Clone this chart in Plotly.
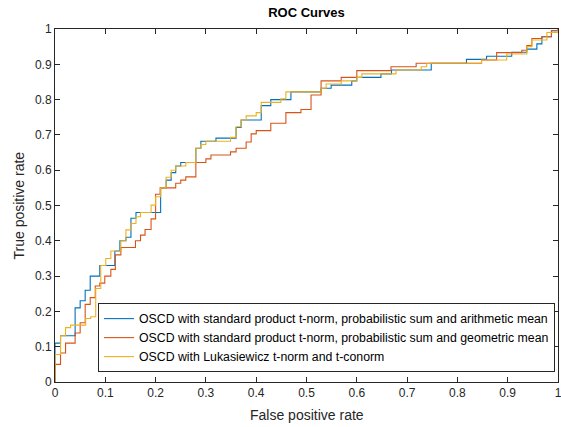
import plotly.graph_objects as go

# ROC step points (fpr at which the jump happens, tpr after jump)
fpr_arith = [0, 0, 0.011, 0.04, 0.05, 0.06, 0.07, 0.089, 0.119, 0.129, 0.141, 0.151, 0.161,
             0.21, 0.221, 0.231, 0.24, 0.25, 0.28, 0.29, 0.32, 0.36, 0.37, 0.41, 0.429,
             0.469, 0.529, 0.549, 0.59, 0.60, 0.648, 0.669, 0.748, 0.818, 0.858, 0.908,
             0.938, 0.958, 0.968, 0.987, 1.0]
tpr_arith = [0, 0.11, 0.131, 0.21, 0.23, 0.26, 0.30, 0.33, 0.371, 0.40, 0.41, 0.464, 0.48,
             0.55, 0.572, 0.593, 0.612, 0.622, 0.662, 0.682, 0.691, 0.721, 0.742, 0.783, 0.80,
             0.822, 0.832, 0.841, 0.853, 0.863, 0.873, 0.884, 0.903, 0.914, 0.923, 0.934,
             0.943, 0.958, 0.978, 0.995, 1.0]

fpr_geom = [0, 0, 0.011, 0.021, 0.04, 0.05, 0.06, 0.07, 0.08, 0.089, 0.099, 0.111, 0.12, 0.131,
            0.16, 0.17, 0.179, 0.191, 0.2, 0.209, 0.24, 0.25, 0.26, 0.28, 0.30, 0.31, 0.349,
            0.36, 0.38, 0.39, 0.40, 0.429, 0.459, 0.489, 0.509, 0.529, 0.569, 0.60, 0.668,
            0.718, 0.848, 0.878, 0.928, 0.938, 0.948, 0.968, 0.987, 1.0]
tpr_geom = [0, 0.05, 0.082, 0.11, 0.139, 0.168, 0.22, 0.239, 0.272, 0.28, 0.30, 0.319, 0.36, 0.381,
            0.40, 0.416, 0.432, 0.462, 0.532, 0.55, 0.563, 0.572, 0.581, 0.622, 0.632, 0.643, 0.652,
            0.662, 0.68, 0.703, 0.712, 0.733, 0.763, 0.772, 0.813, 0.853, 0.863, 0.882, 0.893,
            0.903, 0.912, 0.933, 0.94, 0.953, 0.973, 0.978, 0.995, 1.0]

fpr_luk = [0, 0, 0.011, 0.021, 0.031, 0.061, 0.071, 0.081, 0.091, 0.101, 0.111, 0.131, 0.141,
           0.151, 0.161, 0.17, 0.191, 0.2, 0.21, 0.221, 0.231, 0.24, 0.26, 0.28, 0.29, 0.30,
           0.349, 0.36, 0.37, 0.38, 0.40, 0.41, 0.449, 0.459, 0.529, 0.539, 0.569, 0.60, 0.61,
           0.678, 0.728, 0.739, 0.848, 0.898, 0.938, 0.948, 0.978, 1.0]
tpr_luk = [0, 0.078, 0.131, 0.154, 0.161, 0.18, 0.185, 0.265, 0.33, 0.35, 0.371, 0.40, 0.431,
           0.449, 0.468, 0.48, 0.501, 0.525, 0.55, 0.58, 0.60, 0.612, 0.622, 0.662, 0.673, 0.682,
           0.693, 0.723, 0.742, 0.754, 0.763, 0.792, 0.802, 0.822, 0.832, 0.844, 0.853, 0.863, 0.873,
           0.884, 0.893, 0.903, 0.912, 0.929, 0.95, 0.969, 0.99, 1.0]

names = ["OSCD with standard product t-norm, probabilistic sum and arithmetic mean",
         "OSCD with standard product t-norm, probabilistic sum and geometric mean",
         "OSCD with Lukasiewicz t-norm and t-conorm"]
colors = ["#0072BD", "#D95319", "#EDB120"]
tick_vals = [0, 0.1, 0.2, 0.3, 0.4, 0.5, 0.6, 0.7, 0.8, 0.9, 1]
tick_text = ["0", "0.1", "0.2", "0.3", "0.4", "0.5", "0.6", "0.7", "0.8", "0.9", "1"]

fig = go.Figure()
for xs, ys, n, c in [(fpr_arith, tpr_arith, names[0], colors[0]),
                     (fpr_geom, tpr_geom, names[1], colors[1]),
                     (fpr_luk, tpr_luk, names[2], colors[2])]:
    fig.add_trace(go.Scatter(x=xs, y=ys, mode="lines", name=n,
                             line=dict(color=c, width=1.1, shape="hv")))

axis_common = dict(range=[0, 1], tickvals=tick_vals, ticktext=tick_text,
                   showgrid=False, zeroline=False, showline=True, linecolor="#262626",
                   linewidth=1, mirror="ticks", ticks="inside", ticklen=5,
                   tickcolor="#262626", tickfont=dict(size=12, color="#262626"),
                   automargin=False, ticklabeloverflow="allow")

fig.update_layout(
    width=561, height=427,
    margin=dict(l=55, r=3, t=29, b=45),
    paper_bgcolor="white", plot_bgcolor="white",
    font=dict(family="Liberation Sans, Arial, sans-serif", color="#262626"),
    title=dict(text="<b>ROC Curves</b>", x=306.5 / 561, xanchor="center",
               y=1 - 12 / 427, yanchor="middle", font=dict(size=13, color="#000000"),
               automargin=False),
    xaxis=dict(**axis_common),
    yaxis=dict(**axis_common),
    legend=dict(x=0.994, xanchor="right", y=0.028, yanchor="bottom",
                bgcolor="white", bordercolor="#262626", borderwidth=1,
                font=dict(size=12.3, color="#000000"), tracegroupgap=0),
    showlegend=True,
    annotations=[
        dict(text="False positive rate", xref="paper", yref="paper",
             x=0.5, y=-33 / 353, xanchor="center", yanchor="middle",
             showarrow=False, font=dict(size=14, color="#262626")),
        dict(text="True positive rate", xref="paper", yref="paper",
             x=-37 / 503, y=0.5, xanchor="center", yanchor="middle", textangle=-90,
             showarrow=False, font=dict(size=14, color="#262626")),
    ],
)

fig.write_html("out.html", config={"displayModeBar": False},
               post_script="document.body.style.margin='0';")
